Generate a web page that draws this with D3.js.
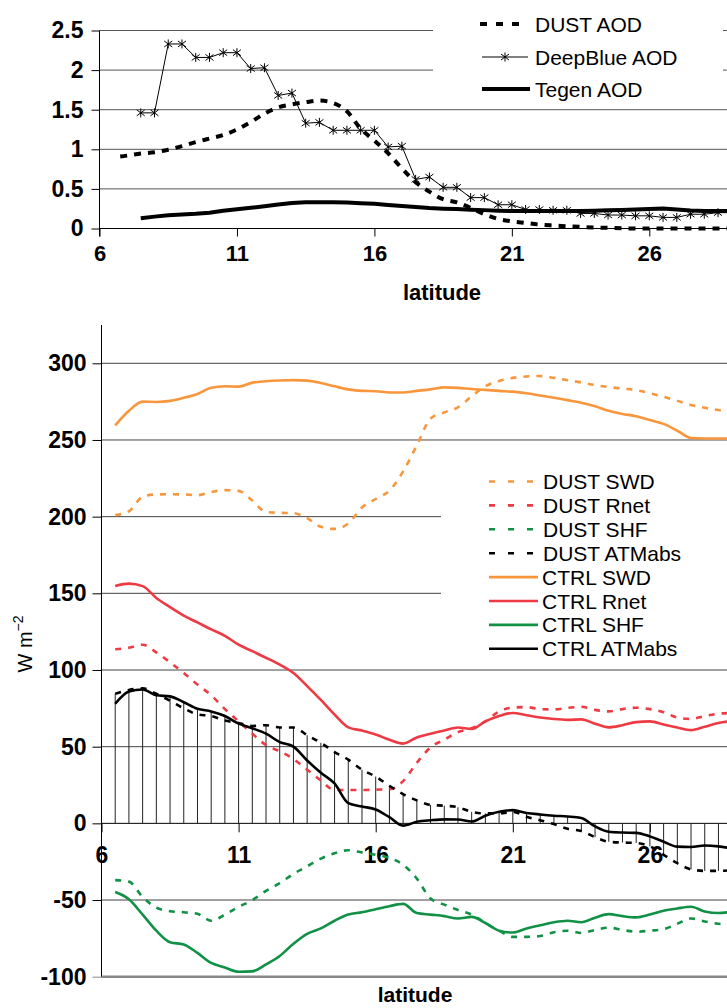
<!DOCTYPE html>
<html><head><meta charset="utf-8">
<script src="https://cdn.jsdelivr.net/npm/d3@7"></script>
<style>
html,body{margin:0;padding:0;background:#fff;}
svg{display:block;font-family:"Liberation Sans",Arial,sans-serif;}
</style></head>
<body>
<svg id="chart" width="727" height="1008"></svg>
<script>
// ---------- DATA ----------
// top panel (AOD)
const latAOD = [6.5,7,7.5,8,8.5,9,9.5,10,10.5,11,11.5,12,12.5,13,13.5,14,14.5,15,15.5,16,16.5,17,17.5,18,18.5,19,19.5,20,20.5,21,21.5,22,22.5,23,23.5,24,24.5,25,25.5,26,26.5,27,27.5,28,28.5,29];
const dustAOD = [0.90,0.92,0.946,0.963,0.995,1.04,1.09,1.135,1.18,1.25,1.345,1.45,1.53,1.567,1.595,1.615,1.585,1.48,1.26,1.11,0.95,0.76,0.585,0.465,0.37,0.33,0.26,0.18,0.12,0.09,0.07,0.05,0.038,0.029,0.02,0.013,0.008,0.003,0,0,0,0,0,0,0,0];
const latObs = [7.5,8,8.5,9,9.5,10,10.5,11,11.5,12,12.5,13,13.5,14,14.5,15,15.5,16,16.5,17,17.5,18,18.5,19,19.5,20,20.5,21,21.5,22,22.5,23,23.5,24,24.5,25,25.5,26,26.5,27,27.5,28,28.5,29];
const deepBlueAOD = [1.46,1.46,2.33,2.33,2.16,2.16,2.22,2.22,2.02,2.03,1.68,1.71,1.33,1.34,1.24,1.24,1.24,1.24,1.03,1.04,0.62,0.65,0.52,0.52,0.39,0.39,0.30,0.30,0.24,0.24,0.23,0.23,0.19,0.19,0.17,0.17,0.16,0.16,0.14,0.14,0.18,0.18,0.20,0.20];
const tegenAOD = [0.13,0.15,0.168,0.178,0.186,0.2,0.225,0.243,0.262,0.281,0.303,0.322,0.33,0.332,0.331,0.327,0.32,0.313,0.298,0.283,0.27,0.258,0.25,0.245,0.238,0.232,0.225,0.22,0.22,0.22,0.22,0.22,0.22,0.225,0.23,0.235,0.24,0.247,0.252,0.24,0.228,0.222,0.22,0.22];
const aodTicks = [0,0.5,1,1.5,2,2.5];
const latTicks = [6,11,16,21,26];

// bottom panel (W m-2)
const latFlux = [6.5,7,7.5,8,8.5,9,9.5,10,10.5,11,11.5,12,12.5,13,13.5,14,14.5,15,15.5,16,16.5,17,17.5,18,18.5,19,19.5,20,20.5,21,21.5,22,22.5,23,23.5,24,24.5,25,25.5,26,26.5,27,27.5,28,28.5,29];
const dustSWD = [201,203.5,213,214.5,214.6,214.5,214,216,217.3,216.8,210.5,203,202.5,202.3,199,193.4,192,195.5,206,211.5,217,229.5,246.5,264,268,271.3,278.5,285,288.5,290.5,291.4,291.7,290.5,289,287.5,285.8,284.5,283.5,282.5,280.5,278.2,275.5,272.8,271,269.5,268];
const dustRnet = [113.5,114.5,116.5,111.5,105,98,90.5,83.5,74.5,66.5,58.5,51,47,42,35,28,21.7,21.7,21.7,22,22.2,27.5,39.5,49.5,54.5,59.5,62,66.5,73,75.5,75.8,74.5,74.3,75.3,76,74,73,74.5,75.4,74.5,72.5,69,68,70,71.5,72];
const dustSHF = [-37,-38,-48,-55,-57.3,-58,-59,-63.5,-59.5,-54.5,-50,-44,-39,-33,-28,-23,-19.5,-17.5,-19,-20.5,-22.5,-27,-36,-49,-53,-56.5,-59.5,-65,-70,-74,-74,-73.5,-71,-70,-71.5,-69.5,-68,-69.5,-70.7,-70,-69,-65.5,-62,-64,-65.5,-66.5];
const dustATMabs = [84.5,87,88,84.5,80,75,71,70,67,65.5,63.5,64,62.5,62.5,57.5,52.5,46.5,41.5,35,30.5,24.5,19,15,12,11.5,10.5,7.5,6.5,6.5,7.5,4.3,2,-0.5,-3.5,-5,-9,-12,-12.5,-12.8,-15,-20.5,-26,-30,-31,-31,-30.5];
const ctrlSWD = [259.5,269,275,274.8,275.5,277.5,280,284,285,284.8,287.4,288.3,288.8,289,288.7,287.2,285,283,282,281.8,281,281,282,283,284.3,284,283.2,282.7,282,281.5,280.5,279,277.5,276,274.3,272,269,267,265.5,263,260.5,256,251.3,251,251,251];
const ctrlRnet = [154.8,156.3,154.7,147,141,135.5,131,126.5,122.3,116.5,112.3,108,103.5,98,89.5,80.5,71,62.6,60.5,58,54.5,52,56,58.5,60.5,62.5,61.5,66.5,70,72,70.5,69,68,67.5,67.8,65,62.6,64,66,66.5,64.5,62.5,60.8,63,65.5,66.7];
const ctrlSHF = [-44.8,-49.5,-59.5,-70,-77.5,-79,-84.5,-91,-94,-96.8,-96.5,-92,-86.5,-78.5,-72,-68.5,-63.5,-59.5,-58,-56,-54,-52.5,-58.5,-59.5,-60.5,-62,-61,-65,-70,-71.2,-68.5,-66.5,-64.5,-63.5,-64.5,-61.5,-59.2,-60.5,-61.3,-59.5,-57,-55.5,-54.4,-57.5,-58.5,-57.5];
const ctrlATMabs = [78,86,87.3,83.5,82.8,79,74.7,73,70,65,62,58.5,53,50,41,33,26,13.2,11,9,4,-1.5,1,2,2.6,2.5,1.2,5,7.5,8.6,6.8,5.8,5,4.5,3.5,-2,-5.5,-6,-6.2,-8.5,-12,-15.2,-15.4,-14.4,-15,-16.5];
const fluxTicks = [-100,-50,0,50,100,150,200,250,300];
const fluxGrid = [-100,-50,50,100,150,200,250,300];

const topLegend = ["DUST AOD","DeepBlue AOD","Tegen AOD"];
const botLegend = ["DUST SWD","DUST Rnet","DUST SHF","DUST ATMabs","CTRL SWD","CTRL Rnet","CTRL SHF","CTRL ATMabs"];

// ---------- STYLE ----------
const C = {orange:"#F7963C", red:"#EE3A43", green:"#119145", black:"#000"};
const svg = d3.select("#chart");
const W = 727;
const plain = d => String(d);

// ---------- TOP PANEL ----------
const xT = d3.scaleLinear().domain([6,31]).range([99.5, 99.5+25*27.49]);
const yT = d3.scaleLinear().domain([0,2.5]).range([228.5,30.5]);

const gT = svg.append("g");
gT.selectAll("line.grid").data(aodTicks.filter(d=>d>0)).join("line")
  .attr("x1",xT(6)).attr("x2",W).attr("y1",d=>yT(d)).attr("y2",d=>yT(d))
  .attr("stroke","#555").attr("stroke-width",1);
gT.append("rect").attr("x",433).attr("y",0).attr("width",290).attr("height",102).attr("fill","#fff");

const yAxT = d3.axisLeft(yT).tickValues(aodTicks).tickSize(8).tickPadding(8).tickFormat(plain);
const gy = gT.append("g").attr("transform",`translate(${xT(6)},0)`).call(yAxT);
gy.select(".domain").attr("d",`M0,${yT(2.5)}V${yT(0)+8}`).attr("stroke","#000");
gy.selectAll(".tick line").attr("stroke","#000");
gy.selectAll("text").attr("font-size",23).attr("font-weight","bold").attr("fill","#000").attr("font-family","Liberation Sans, Arial");
const xAxT = d3.axisBottom(xT).tickValues(latTicks).tickSize(8).tickPadding(9).tickFormat(plain);
const gx = gT.append("g").attr("transform",`translate(0,${yT(0)})`).call(xAxT);
gx.select(".domain").attr("d",`M${xT(6)},0H${W}`).attr("stroke","#000");
gx.selectAll(".tick line").attr("stroke","#000");
gx.selectAll("text").attr("font-size",22).attr("font-weight","bold").attr("fill","#000").attr("font-family","Liberation Sans, Arial");
gT.append("text").attr("x",442).attr("y",300).attr("text-anchor","middle")
  .attr("font-size",22).attr("font-weight","bold").text("latitude");

const lineT = (lats)=>d3.line().x((d,i)=>xT(lats[i])).y(d=>yT(d));
gT.append("path").datum(tegenAOD).attr("d",lineT(latObs)).attr("fill","none")
  .attr("stroke","#000").attr("stroke-width",4);
gT.append("path").datum(dustAOD).attr("d",lineT(latAOD).curve(d3.curveMonotoneX)).attr("fill","none")
  .attr("stroke","#000").attr("stroke-width",4).attr("stroke-dasharray","7,7").attr("stroke-dashoffset",7);
gT.append("path").datum(deepBlueAOD).attr("d",lineT(latObs)).attr("fill","none")
  .attr("stroke","#000").attr("stroke-width",1);
const star = "M0,-4.5V4.5M-4,-3L4,3M-4,3L4,-3";
gT.selectAll("path.mk").data(deepBlueAOD).join("path").attr("class","mk")
  .attr("transform",(d,i)=>`translate(${xT(latObs[i])},${yT(d)})`)
  .attr("d",star).attr("stroke","#000").attr("stroke-width",1).attr("fill","none");

const lgT = gT.append("g");
const lyT = [24,57,89];
lgT.append("line").attr("x1",480).attr("x2",527).attr("y1",lyT[0]).attr("y2",lyT[0])
  .attr("stroke","#000").attr("stroke-width",4).attr("stroke-dasharray","7,9");
lgT.append("line").attr("x1",482).attr("x2",528).attr("y1",lyT[1]).attr("y2",lyT[1])
  .attr("stroke","#000").attr("stroke-width",1);
lgT.append("path").attr("transform",`translate(505,${lyT[1]})`).attr("d",star).attr("stroke","#000");
lgT.append("line").attr("x1",482).attr("x2",530).attr("y1",lyT[2]).attr("y2",lyT[2])
  .attr("stroke","#000").attr("stroke-width",4);
lgT.selectAll("text").data(topLegend).join("text").attr("x",535).attr("y",(d,i)=>lyT[i]+7.5)
  .attr("font-size",21).text(d=>d);

// ---------- BOTTOM PANEL ----------
const xB = d3.scaleLinear().domain([6,31]).range([101.5, 101.5+25*27.42]);
const yB = d3.scaleLinear().domain([-100,300]).range([976.7,363.3]);
const gB = svg.append("g");
gB.selectAll("line.grid").data(fluxGrid).join("line")
  .attr("x1",xB(6)).attr("x2",W).attr("y1",d=>yB(d)).attr("y2",d=>yB(d))
  .attr("stroke",d=>d===-100?"#888":"#444").attr("stroke-width",d=>d===-100?2.5:1);
gB.append("rect").attr("x",441).attr("y",448).attr("width",290).attr("height",214).attr("fill","#fff");

const yAxB = d3.axisLeft(yB).tickValues(fluxTicks).tickSize(9).tickPadding(6).tickFormat(plain);
const gyB = gB.append("g").attr("transform",`translate(${xB(6)},0)`).call(yAxB);
gyB.select(".domain").attr("d",`M0,325V${yB(-100)}`).attr("stroke","#000");
gyB.selectAll(".tick line").attr("stroke",d=>d===-100?"#888":"#000");
gyB.selectAll("text").attr("font-size",23).attr("font-weight","bold").attr("fill","#000").attr("font-family","Liberation Sans, Arial");
const xAxB = d3.axisBottom(xB).tickValues(latTicks).tickSize(9).tickPadding(14).tickFormat(plain);
const gxB = gB.append("g").attr("transform",`translate(0,${yB(0)})`).call(xAxB);
gxB.select(".domain").attr("d",`M${xB(6)},0H${W}`).attr("stroke","#000");
gxB.selectAll(".tick line").attr("stroke","#000");
gxB.selectAll("text").attr("font-size",23).attr("font-weight","bold").attr("fill","#000").attr("font-family","Liberation Sans, Arial");
gB.append("text").attr("x",415).attr("y",1002).attr("text-anchor","middle")
  .attr("font-size",21).attr("font-weight","bold").text("latitude");
const yl = gB.append("text").attr("transform","translate(32,644) rotate(-90)").attr("text-anchor","middle").attr("font-size",20);
yl.append("tspan").text("W m");
yl.append("tspan").attr("dy",-9).attr("font-size",14).text("\u22122");

// drop lines
gB.selectAll("line.drop").data(latFlux).join("line")
  .attr("x1",d=>xB(d)).attr("x2",d=>xB(d)).attr("y1",yB(0))
  .attr("y2",(d,i)=>yB(Math.abs(dustATMabs[i])>Math.abs(ctrlATMabs[i])?dustATMabs[i]:ctrlATMabs[i]))
  .attr("stroke","#222").attr("stroke-width",1);

const lineB = d3.line().x((d,i)=>xB(latFlux[i])).y(d=>yB(d)).curve(d3.curveMonotoneX);
const series = [
  {v:dustSWD,c:C.orange,dash:true},{v:dustRnet,c:C.red,dash:true},{v:dustSHF,c:C.green,dash:true},{v:dustATMabs,c:C.black,dash:true},
  {v:ctrlSWD,c:C.orange,dash:false},{v:ctrlRnet,c:C.red,dash:false},{v:ctrlSHF,c:C.green,dash:false},{v:ctrlATMabs,c:C.black,dash:false}
];
gB.selectAll("path.s").data(series).join("path").attr("class","s")
  .attr("d",d=>lineB(d.v)).attr("fill","none").attr("stroke",d=>d.c)
  .attr("stroke-width",2.6).attr("stroke-dasharray",d=>d.dash?"6,7":null);

const lgB = gB.append("g");
const lyB0 = 481.5, lyStep = 23.9;
lgB.selectAll("line").data(series).join("line")
  .attr("x1",489).attr("x2",d=>d.dash?536:538)
  .attr("y1",(d,i)=>lyB0+i*lyStep).attr("y2",(d,i)=>lyB0+i*lyStep)
  .attr("stroke",d=>d.c).attr("stroke-width",2.6).attr("stroke-dasharray",d=>d.dash?"6,13":null);
lgB.selectAll("text").data(botLegend).join("text").attr("x",(d,i)=>i<4?543:542)
  .attr("y",(d,i)=>lyB0+i*lyStep+7.5).attr("font-size",21).text(d=>d);
</script>
</body></html>
